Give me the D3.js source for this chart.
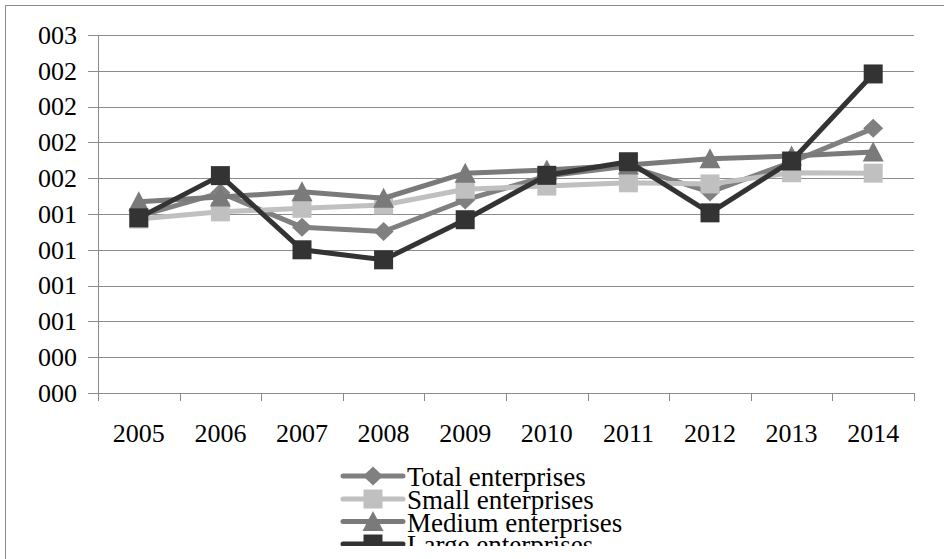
<!DOCTYPE html>
<html><head><meta charset="utf-8">
<script src="https://cdn.jsdelivr.net/npm/d3@7"></script>
<style>html,body{margin:0;padding:0;background:#fff;overflow:hidden}</style>
</head><body>
<svg id="c" width="944" height="559"></svg>
<script>
const years = ["2005","2006","2007","2008","2009","2010","2011","2012","2013","2014"];
const totalEnterprises  = [0.001235,0.001398,0.001158,0.001128,0.001348,0.001515,0.001585,0.001403,0.001613,0.001848];
const smallEnterprises  = [0.001215,0.001265,0.001290,0.001313,0.001423,0.001445,0.001468,0.001460,0.001538,0.001535];
const mediumEnterprises = [0.001335,0.001368,0.001405,0.001360,0.001535,0.001558,0.001593,0.001635,0.001655,0.001683];
const largeEnterprises  = [0.001223,0.001518,0.001000,0.000930,0.001210,0.001520,0.001615,0.001258,0.001620,0.002228];
const yTicks = [0,0.00025,0.0005,0.00075,0.001,0.00125,0.0015,0.00175,0.002,0.00225,0.0025];
const yTickLabels = ["000","000","001","001","001","001","002","002","002","002","003"];
const seriesNames = ["Total enterprises","Small enterprises","Medium enterprises","Large enterprises"];

const series = [
  {name:seriesNames[0], values:totalEnterprises,  color:"#808080", marker:"diamond"},
  {name:seriesNames[1], values:smallEnterprises,  color:"#c0c0c0", marker:"square"},
  {name:seriesNames[2], values:mediumEnterprises, color:"#7a7a7a", marker:"triangle"},
  {name:seriesNames[3], values:largeEnterprises,  color:"#333333", marker:"square"}
];

const svg = d3.select("#c");
const font = "Liberation Serif";
const L=98, R=914, T=35, B=393;
const x = d3.scaleBand().domain(years).range([L,R]).padding(0);
const y = d3.scaleLinear().domain([0,0.0025]).range([B,T]);

// outer border
svg.append("path").attr("d","M5.5,559 V5.5 H944").attr("fill","none").attr("stroke","#8a8a8a").attr("stroke-width",1);

// gridlines + y labels
const yAxis = d3.axisLeft(y).tickValues(yTicks).tickSize(-(R-L)).tickPadding(21)
  .tickFormat((d,i)=>yTickLabels[i]);
const gy = svg.append("g").attr("transform",`translate(${L},0)`).call(yAxis)
  .attr("font-family",font).attr("font-size",26);
gy.select(".domain").remove();
gy.selectAll(".tick line").attr("stroke","#8c8c8c").attr("x1",-10).attr("shape-rendering","crispEdges");
gy.selectAll(".tick text").attr("font-family",font).attr("font-size",26).attr("fill","#000").attr("dy","0.32em");

// y axis line
svg.append("line").attr("x1",L+0.5).attr("x2",L+0.5).attr("y1",T).attr("y2",B+7).attr("stroke","#8c8c8c");

// x axis ticks at band boundaries
const boundaries = years.map(d=>x(d)).concat([R]);
svg.append("g").selectAll("line").data(boundaries).join("line")
  .attr("x1",d=>Math.round(d)+0.5).attr("x2",d=>Math.round(d)+0.5).attr("y1",B).attr("y2",B+8)
  .attr("stroke","#8c8c8c");
svg.append("g").selectAll("text").data(years).join("text")
  .attr("x",d=>x(d)+x.bandwidth()/2).attr("y",442)
  .attr("text-anchor","middle").attr("font-family",font).attr("font-size",26).text(d=>d);

function markerPath(type){
  if(type==="diamond") return "M0,-9.5 L10,0 L0,9.5 L-10,0 Z";
  if(type==="triangle") return "M0,-10.5 L10.5,9.5 L-10.5,9.5 Z";
  return "M-9.5,-9.5 H9.5 V9.5 H-9.5 Z";
}

const cx = d=>x(d)+x.bandwidth()/2;
const line = d3.line().x((d,i)=>cx(years[i])).y(d=>y(d));
series.forEach(s=>{
  const g = svg.append("g");
  g.append("path").attr("d",line(s.values)).attr("fill","none").attr("stroke",s.color)
    .attr("stroke-width",5).attr("stroke-linejoin","round").attr("stroke-linecap","round");
  g.selectAll("path.m").data(s.values).join("path").attr("class","m")
    .attr("d",markerPath(s.marker))
    .attr("transform",(d,i)=>`translate(${cx(years[i])},${y(d)})`)
    .attr("fill",s.color);
});

// legend (clipped at bottom like the reference)
svg.append("clipPath").attr("id","lc").append("rect").attr("x",0).attr("y",0).attr("width",944).attr("height",546);
const lg = svg.append("g").attr("clip-path","url(#lc)");
const rowY = [476,499,521.5,544];
series.forEach((s,i)=>{
  const r = lg.append("g").attr("transform",`translate(0,${rowY[i]})`);
  r.append("line").attr("x1",343).attr("x2",403).attr("y1",0).attr("y2",0).attr("stroke",s.color).attr("stroke-width",5).attr("stroke-linecap","round");
  r.append("path").attr("d",markerPath(s.marker)).attr("transform","translate(373,0)").attr("fill",s.color);
  r.append("text").attr("x",407).attr("y",10).attr("font-family",font).attr("font-size",27).text(s.name);
});
</script>
</body></html>
